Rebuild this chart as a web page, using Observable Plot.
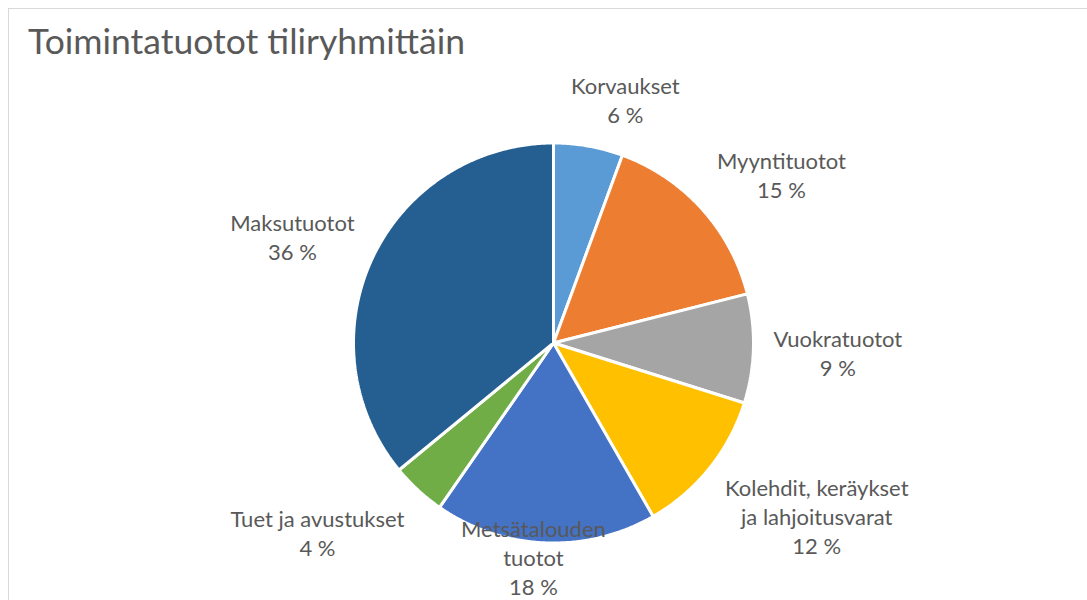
<!DOCTYPE html>
<html>
<head>
<meta charset="utf-8">
<script src="https://cdn.jsdelivr.net/npm/d3@7"></script>
<script src="https://cdn.jsdelivr.net/npm/@observablehq/plot@0.6"></script>
<style>
  html, body { margin: 0; padding: 0; background: #fff; }
  #frame { position: absolute; left: 8px; top: 8px; width: 1100px; height: 640px;
           border: 1px solid #d9d9d9; box-sizing: border-box; overflow: hidden; }
  #title { height: 62px; box-sizing: border-box; padding: 15px 0 0 19px;
           font-family: Lato, sans-serif; font-size: 35.5px; line-height: 34px; color: #595959; white-space: nowrap; }
</style>
</head>
<body>
<div id="frame">
  <div id="title">Toimintatuotot tiliryhmittäin</div>
  <div id="chart"></div>
</div>
<script>
const categories = ["Korvaukset", "Myyntituotot", "Vuokratuotot", "Kolehdit, keräykset ja lahjoitusvarat", "Metsätalouden tuotot", "Tuet ja avustukset", "Maksutuotot"];
const labelLines = ["Korvaukset", "Myyntituotot", "Vuokratuotot", "Kolehdit, keräykset\nja lahjoitusvarat", "Metsätalouden\ntuotot", "Tuet ja avustukset", "Maksutuotot"];
const shares = [5.6, 15.45, 8.8, 11.85, 17.95, 4.4, 35.95];
const colors = ["#5B9BD5", "#ED7D31", "#A5A5A5", "#FFC000", "#4472C4", "#70AD47", "#255E91"];

const W = 1078, H = 529;
const CX = 544, CY = 271.5, RPX = 200;
const FONT = 22, LH = 29;

const arcs = d3.pie().sort(null).value(d => d)(shares);

// slice outlines (data units: radius = 1)
const pts = [];
arcs.forEach((a, i) => {
  pts.push({name: categories[i], x: 0, y: 0});
  const n = Math.max(2, Math.ceil((a.endAngle - a.startAngle) / (Math.PI / 360)));
  for (let k = 0; k <= n; k++) {
    const t = a.startAngle + (a.endAngle - a.startAngle) * k / n;
    pts.push({name: categories[i], x: Math.sin(t), y: Math.cos(t)});
  }
});

// label placement
const ctx = document.createElement("canvas").getContext("2d");
ctx.font = `${FONT}px Lato`;
const clamp = (v, lo, hi) => Math.max(lo, Math.min(hi, v));
const labels = arcs.map((a, i) => {
  const text = labelLines[i] + "\n" + Math.round(shares[i]) + " %";
  const lines = text.split("\n");
  const w = d3.max(lines, l => ctx.measureText(l).width);
  const h = lines.length * LH;
  const m = (a.startAngle + a.endAngle) / 2;
  const s = Math.sin(m), c = Math.cos(m);
  const px = s * RPX * 1.1, py = -c * RPX * 1.1 + 2;      // pixel offsets, y down
  let bx = px + clamp(s * 3.5, -1, 1) * w / 2;
  let by = py - clamp(c * 1.2, -1, 1) * h / 2;
  by = Math.min(by, (H - CY) - h / 2);                     // keep inside bottom
  return {text, x: bx / RPX, y: -by / RPX};
});

const chart = Plot.plot({
  width: W, height: H,
  margin: 0,
  x: {domain: [-1, 1], range: [CX - RPX, CX + RPX], axis: null},
  y: {domain: [-1, 1], range: [CY + RPX, CY - RPX], axis: null},
  color: {type: "ordinal", domain: categories, range: colors},
  style: {fontFamily: "Lato, sans-serif", background: "white", overflow: "visible"},
  marks: [
    Plot.line(pts, {x: "x", y: "y", z: "name", fill: "name", stroke: "white", strokeWidth: 3, strokeLinejoin: "miter", curve: "linear-closed"}),
    Plot.text(labels, {x: "x", y: "y", text: "text", fill: "#595959", fontSize: FONT, lineHeight: LH / FONT, textAnchor: "middle", lineAnchor: "middle"})
  ]
});
document.getElementById("chart").appendChild(chart);
</script>
</body>
</html>
